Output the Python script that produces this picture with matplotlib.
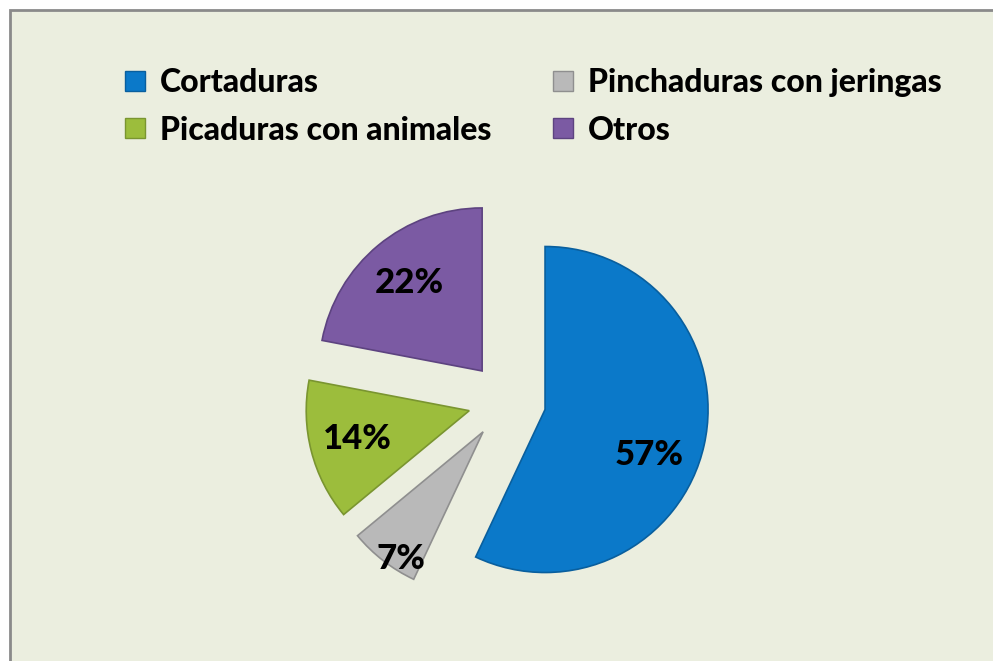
import matplotlib
matplotlib.use("Agg")
import matplotlib.pyplot as plt
from matplotlib.patches import Rectangle, Patch
import numpy as np

categories = ["Cortaduras", "Pinchaduras con jeringas", "Picaduras con animales", "Otros"]
values = [57, 7, 14, 22]
colors = ["#0b79c9", "#b9b9b9", "#9cbd3c", "#7b5aa3"]
edge_colors = ["#095f9e", "#8f8f8f", "#7a9530", "#5d4380"]
label_dist = [0.70, 0.93, 0.71, 0.70]
label_angle_shift = [-11, 5, 0, 0]

W, H = 993, 661
fig = plt.figure(figsize=(W / 100, H / 100), dpi=100)
fig.patch.set_facecolor("white")
ax = fig.add_axes([0, 0, 1, 1])

# chart area background and border
ax.add_patch(Rectangle((10, -5), W + 10, H - 10 + 5, facecolor="#ebeedf",
                       edgecolor="#8a8a8a", linewidth=2, zorder=0))

cx, cy, R = 507, H - 401, 163
wedges, texts = ax.pie(values, radius=R, center=(cx, cy), startangle=90,
                       counterclock=False, explode=[39] * 4, colors=colors,
                       wedgeprops=dict(linewidth=1.2), frame=True)
for w, ec in zip(wedges, edge_colors):
    w.set_edgecolor(ec)
ax.set_xlim(0, W)
ax.set_ylim(0, H)
ax.set_aspect("equal")
ax.axis("off")

tot = sum(values)
for w, v, d, s in zip(wedges, values, label_dist, label_angle_shift):
    th = np.deg2rad((w.theta1 + w.theta2) / 2 + s)
    x0, y0 = w.center
    ax.text(x0 + d * R * np.cos(th), y0 + d * R * np.sin(th),
            f"{round(100 * v / tot)}%", ha="center", va="center",
            fontsize=25, fontweight="black", family="Lato", color="black")

order = [0, 2, 1, 3]
handles = [Patch(facecolor=colors[i], edgecolor=edge_colors[i], label=categories[i]) for i in order]
leg = fig.legend(handles=handles, loc="upper left", bbox_to_anchor=(109 / W, 1 - 52 / H),
                 ncol=2, frameon=False, prop=dict(family="Lato", weight="black", size=23),
                 handlelength=0.62, handleheight=0.6, handletextpad=0.47,
                 columnspacing=1.94, labelspacing=0.58, borderpad=0)

fig.savefig("out.png", dpi=100, facecolor=fig.get_facecolor())
